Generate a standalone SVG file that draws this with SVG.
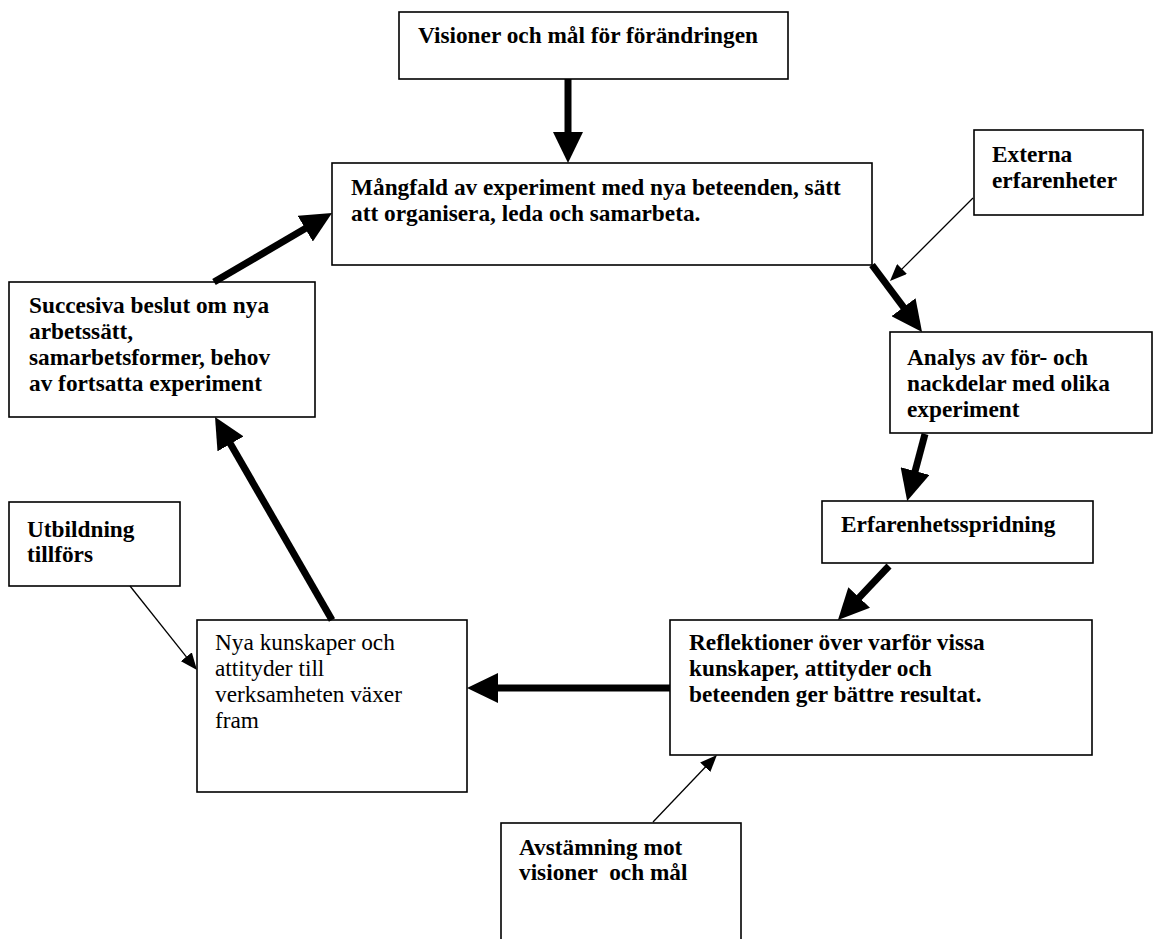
<svg xmlns="http://www.w3.org/2000/svg" width="1153" height="939" viewBox="0 0 1153 939">
  <style>
    .box { fill: #ffffff; stroke: #000000; stroke-width: 1.6; }
    .t { font-family: "Liberation Serif", "Times New Roman", serif; font-size: 23.3px; fill: #000000; white-space: pre; }
    .b { font-weight: bold; }
    .thick { stroke: #000000; stroke-width: 7; fill: none; marker-end: url(#headBig); }
    .thin { stroke: #000000; stroke-width: 1.3; fill: none; marker-end: url(#headSmall); }
  </style>
  <defs>
    <marker id="headBig" viewBox="0 0 31 30" refX="4" refY="15" markerWidth="31" markerHeight="30" markerUnits="userSpaceOnUse" orient="auto">
      <path d="M0,0 L31,15 L0,30 z" fill="#000000"/>
    </marker>
    <marker id="headSmall" viewBox="0 0 17 14" refX="2" refY="7" markerWidth="17" markerHeight="14" markerUnits="userSpaceOnUse" orient="auto">
      <path d="M0,0 L17,7 L0,14 z" fill="#000000"/>
    </marker>
  </defs>

  <rect width="1153" height="939" fill="#ffffff"/>

  <g id="visioner">
    <rect class="box" x="399" y="12" width="389" height="67"/>
    <text class="t b" x="418" y="43">Visioner och mål för förändringen</text>
  </g>

  <g id="mangfald">
    <rect class="box" x="332" y="163" width="540" height="102"/>
    <text class="t b" x="351" y="195">Mångfald av experiment med nya beteenden, sätt</text>
    <text class="t b" x="351" y="221">att organisera, leda och samarbeta.</text>
  </g>

  <g id="externa">
    <rect class="box" x="974" y="130" width="169" height="85"/>
    <text class="t b" x="992" y="162">Externa</text>
    <text class="t b" x="992" y="188">erfarenheter</text>
  </g>

  <g id="analys">
    <rect class="box" x="890" y="332" width="262" height="101"/>
    <text class="t b" x="907" y="365">Analys av för- och</text>
    <text class="t b" x="907" y="391">nackdelar med olika</text>
    <text class="t b" x="907" y="417">experiment</text>
  </g>

  <g id="erfarenhetsspridning">
    <rect class="box" x="822" y="501" width="271" height="62"/>
    <text class="t b" x="841" y="532">Erfarenhetsspridning</text>
  </g>

  <g id="reflektioner">
    <rect class="box" x="670" y="620" width="422" height="135"/>
    <text class="t b" x="689" y="650">Reflektioner över varför vissa</text>
    <text class="t b" x="689" y="676">kunskaper, attityder och</text>
    <text class="t b" x="689" y="702">beteenden ger bättre resultat.</text>
  </g>

  <g id="nya-kunskaper">
    <rect class="box" x="197" y="620" width="270" height="172"/>
    <text class="t" x="215" y="650">Nya kunskaper och</text>
    <text class="t" x="215" y="676">attityder till</text>
    <text class="t" x="215" y="702">verksamheten växer</text>
    <text class="t" x="215" y="728">fram</text>
  </g>

  <g id="succesiva">
    <rect class="box" x="9" y="282" width="306" height="135"/>
    <text class="t b" x="29" y="313">Succesiva beslut om nya</text>
    <text class="t b" x="29" y="339">arbetssätt,</text>
    <text class="t b" x="29" y="365">samarbetsformer, behov</text>
    <text class="t b" x="29" y="391">av fortsatta experiment</text>
  </g>

  <g id="utbildning">
    <rect class="box" x="9" y="502" width="171" height="84"/>
    <text class="t b" x="27" y="537">Utbildning</text>
    <text class="t b" x="27" y="562">tillförs</text>
  </g>

  <g id="avstamning">
    <rect class="box" x="501" y="823" width="240" height="130"/>
    <text class="t b" x="519" y="855">Avstämning mot</text>
    <text class="t b" x="519" y="880">visioner  och mål</text>
  </g>

  <g id="connectors">
    <line class="thick" x1="568" y1="79" x2="568" y2="136"/>
    <line class="thick" x1="872" y1="265" x2="905.9" y2="310.4"/>
    <line class="thin" x1="973" y1="198" x2="900.6" y2="270.4"/>
    <line class="thick" x1="925" y1="434" x2="914.1" y2="474.9"/>
    <line class="thick" x1="889" y1="566" x2="856.5" y2="600.4"/>
    <line class="thick" x1="670" y1="688" x2="494" y2="688"/>
    <line class="thin" x1="653" y1="822" x2="706.6" y2="765.8"/>
    <line class="thick" x1="332" y1="620" x2="228.5" y2="440.4"/>
    <line class="thick" x1="214" y1="282" x2="308.7" y2="226.6"/>
    <line class="thin" x1="130" y1="586" x2="187.6" y2="658.3"/>
  </g>
</svg>
